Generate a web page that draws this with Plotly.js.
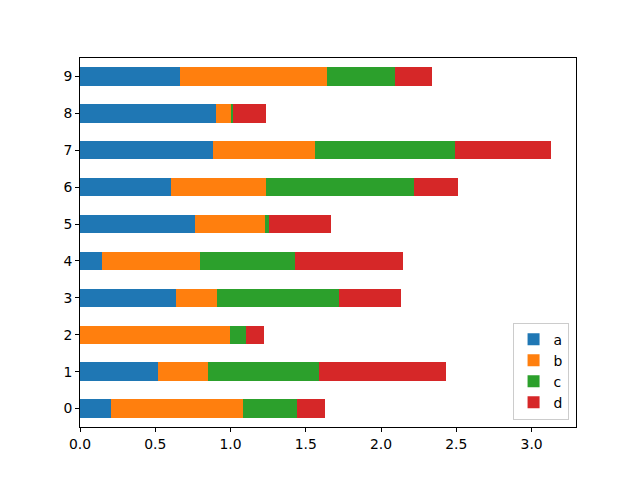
<!DOCTYPE html>
<html>
<head>
<meta charset="utf-8">
<script src="https://cdn.plot.ly/plotly-3.0.1.min.js"></script>
<style>html,body{margin:0;padding:0;background:#fff;}#chart{width:640px;height:480px;}</style>
</head>
<body>
<div id="chart"></div>
<script>
const categories = [0, 1, 2, 3, 4, 5, 6, 7, 8, 9];
const seriesA = [0.203, 0.521, 0.000, 0.641, 0.149, 0.767, 0.605, 0.886, 0.906, 0.661];
const seriesB = [0.883, 0.332, 0.999, 0.270, 0.651, 0.465, 0.633, 0.678, 0.100, 0.982];
const seriesC = [0.356, 0.735, 0.107, 0.810, 0.631, 0.024, 0.983, 0.929, 0.013, 0.452];
const seriesD = [0.188, 0.845, 0.119, 0.414, 0.717, 0.414, 0.292, 0.638, 0.219, 0.245];
const names = ['a', 'b', 'c', 'd'];
const colors = ['#1f77b4', '#ff7f0e', '#2ca02c', '#d62728'];
const all = [seriesA, seriesB, seriesC, seriesD];

const traces = all.map((vals, i) => ({
  type: 'bar',
  orientation: 'h',
  y: categories,
  x: vals,
  name: names[i],
  marker: {color: colors[i], line: {width: 0}},
  hoverinfo: 'x+y+name'
}));

const font = {family: 'DejaVu Sans, sans-serif', size: 13.9, color: '#000'};
const layout = {
  width: 640, height: 480,
  margin: {l: 80, r: 64, t: 58, b: 53, pad: 0},
  barmode: 'stack',
  bargap: 0.5,
  paper_bgcolor: '#fff',
  plot_bgcolor: '#fff',
  font: font,
  xaxis: {
    range: [0, 3.295],
    tick0: 0, dtick: 0.5, tickformat: '.1f',
    showgrid: false, zeroline: false,
    showline: true, mirror: true, linecolor: '#000', linewidth: 1,
    ticks: 'outside', ticklen: 4, tickcolor: '#000', tickwidth: 1,
    tickfont: font
  },
  yaxis: {
    range: [-0.5, 9.5],
    tickmode: 'array', tickvals: categories, ticktext: categories.map(String),
    showgrid: false, zeroline: false,
    showline: true, mirror: true, linecolor: '#000', linewidth: 1,
    ticks: 'outside', ticklen: 4, tickcolor: '#000', tickwidth: 1,
    tickfont: font
  },
  showlegend: true,
  legend: {
    x: 0.985, y: 0.02, xanchor: 'right', yanchor: 'bottom',
    traceorder: 'normal',
    bordercolor: '#cccccc', borderwidth: 1,
    bgcolor: 'rgba(255,255,255,0.8)',
    font: font,
    itemwidth: 30
  }
};

Plotly.newPlot('chart', traces, layout, {displayModeBar: false, staticPlot: true});
</script>
</body>
</html>
